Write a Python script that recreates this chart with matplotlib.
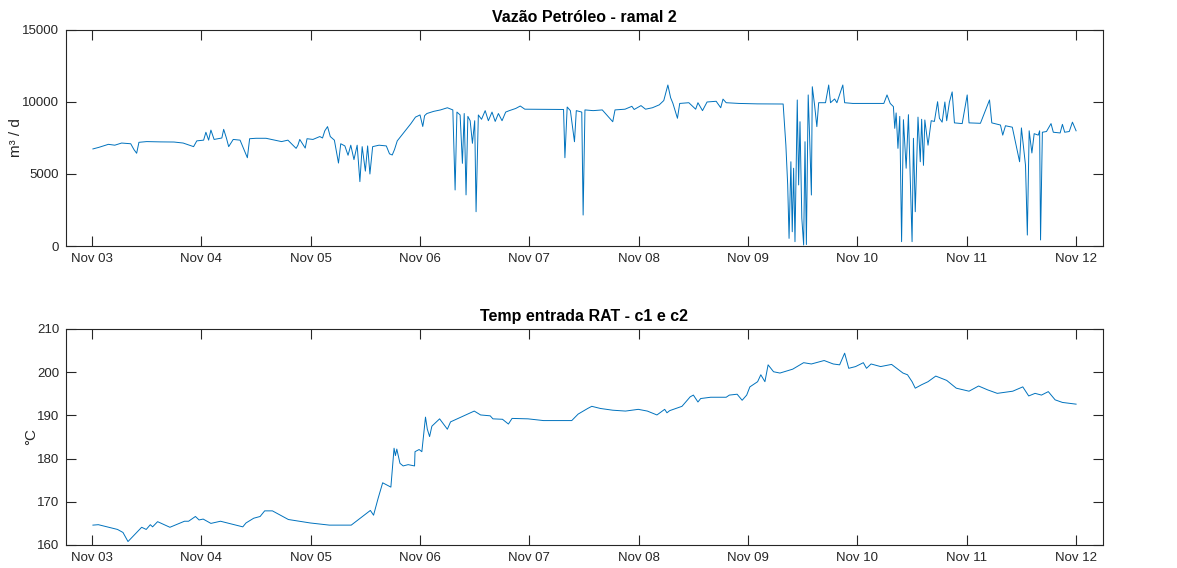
import numpy as np
import pandas as pd
import matplotlib
matplotlib.use("Agg")
import matplotlib.pyplot as plt
import matplotlib.dates as mdates

plt.rcParams['font.family'] = ['Liberation Sans', 'DejaVu Sans']

t0 = pd.Timestamp("2019-11-03 00:00")

# vazao de petroleo, ramal 2 (horas desde Nov 03 00:00, m3/d)
vazao_h = [0.2, 1.5, 3.6, 5.0, 6.5, 8.5, 9.2, 9.8, 10.3, 12, 15, 18, 20, 22.3, 23,
           24.5, 25, 25.6, 26.1, 26.8, 28.5, 28.9, 29.5, 30, 31, 32.5, 34.1, 34.6,
           36, 38.2, 41.6, 43, 44.8, 45.2, 45.6, 46.8, 47.2, 48.5, 50, 50.6, 51.1,
           51.7, 52.3, 53.2, 54.1, 54.6, 55.5, 56.2, 56.8, 57.5, 58.2, 58.8, 59.3,
           60, 60.5, 61, 61.6, 63, 64.6, 65.3, 65.9, 66.4, 67, 68.5, 70, 71, 72,
           72.6, 73, 73.5, 75, 76.5, 78, 79.2, 79.7, 80.1, 80.8, 81.3, 81.7, 82.1,
           82.5, 83.0, 83.5, 84.0, 84.3, 84.8, 85.5, 86.3, 87.0, 87.8, 88.5, 89.2,
           90.0, 90.8, 91.6, 93.0, 94.0, 95.0, 100, 103.5, 103.8, 104.3, 105.0,
           105.9, 106.3, 107.5, 107.8, 108.2, 110, 112, 114.3, 114.8, 117, 118.5,
           119, 120.5, 121.5, 123, 124.5, 125.5, 126.4, 127.0, 127.5, 128.5, 129,
           131, 132.5, 133, 134, 135, 137, 138, 138.5, 139.2, 142, 146, 151.7,
           152.3, 152.7, 153.0, 153.4, 153.7, 154.0, 154.3, 154.8, 155.1, 155.4,
           155.8, 156.2, 156.5, 156.8, 157.2, 157.5, 157.9, 158.1, 158.6, 159.1,
           159.5, 161.0, 161.7, 162.1, 163.0, 163.5, 164.8, 165.2, 167, 170, 173.8,
           174.5, 175.2, 175.9, 176.2, 176.5, 176.9, 177.3, 177.7, 178.1, 178.7,
           179.2, 179.7, 180.0, 180.3, 180.7, 181.3, 181.8, 182.1, 182.5, 182.8,
           183.5, 184.2, 184.9, 185.6, 186.0, 186.6, 187.2, 187.6, 188.2, 188.8,
           189.3, 191, 192.1, 192.5, 195, 197, 197.5, 199.4, 199.9, 200.5, 202,
           203.6, 204.0, 204.9, 205.3, 205.7, 206.3, 206.8, 207.7, 208.0, 208.2,
           208.6, 209.5, 210.5, 211, 212.5, 213, 213.5, 214.5, 215.2, 216]
vazao = [6740, 6850, 7060, 7000, 7150, 7100, 6700, 6440, 7200, 7250, 7230, 7220, 7150, 6900, 7300,
         7350, 7900, 7350, 8050, 7400, 7500, 8100, 7500, 6900, 7400, 7350, 6130, 7450,
         7480, 7480, 7250, 7350, 6780, 7000, 7400, 6800, 7450, 7400, 7600, 7500, 8000,
         8290, 7600, 7350, 5760, 7100, 6950, 6300, 7000, 6000, 7000, 4470, 6900,
         5200, 6950, 5000, 6900, 7000, 6950, 6400, 6320, 6700, 7300, 7900, 8500, 8950, 9100,
         8300, 9050, 9200, 9350, 9450, 9600, 9450, 3890, 9300, 9100, 5740, 9200, 3550,
         9000, 8700, 7130, 8700, 2380, 9100, 8800, 9400, 8700, 9300, 8650, 9200,
         8700, 9300, 9400, 9550, 9720, 9500, 9490, 9480, 6130, 9650, 9400,
         7240, 9400, 9300, 2150, 9450, 9400, 9450, 8630, 9450, 9500, 9700,
         9480, 9750, 9500, 9600, 9800, 10100, 11180, 10300, 9910, 8870, 9900,
         9950, 9500, 9950, 9400, 10000, 10050, 9600, 10200, 9950, 9900, 9870, 9860,
         7010, 4240, 530, 5850, 990, 5400, 300, 10140, 4240, 8630,
         1920, 70, 7240, 100, 10490, 7700, 3540, 11060, 9790, 8290,
         9950, 9950, 11180, 9950, 10210, 9950, 11180, 9950, 9900, 9900, 9900,
         10490, 9900, 9680, 8170, 9240, 6780, 9000, 300, 8770, 5400,
         9120, 3540, 300, 7480, 2380, 8950, 5850, 8800, 5600, 8750,
         7000, 8700, 8650, 10020, 8870, 8600, 10000, 8700, 10000, 10700,
         8550, 8500, 10490, 8550, 8520, 10140, 8550, 8400, 7700, 8350, 8250,
         5850, 8200, 5600, 760, 8000, 6460, 7800, 7700, 8000, 420,
         7900, 7950, 8500, 7900, 7850, 8450, 7900, 7950, 8600, 8000]

# temperatura de entrada RAT, c1 e c2 (horas desde Nov 03 00:00, graus C)
temp_h = [0.2, 1.4, 5.6, 6.8, 7.9, 10.9, 11.9, 12.8, 13.3, 14.4, 17.1, 20.3, 21.2, 22.7,
          23.5, 24.4, 26.1, 28.2, 33.1, 33.8, 35.5, 36.9, 37.9, 39.6, 43.1, 47.9, 52.1,
          56.9, 61.1, 61.8, 62.8, 63.8, 65.6, 66.3, 66.6, 66.9, 67.6, 68.3, 69.4, 70.8,
          70.9, 71.8, 72.4, 73.2, 73.6, 74.1, 74.6, 76.3, 78.0, 78.7, 83.9, 85.3, 87.4,
          88.0, 90.1, 91.4, 92.2, 95.7, 99.1, 105.3, 106.7, 108.8, 109.7, 111.6, 114.3,
          117.1, 119.9, 121.9, 124.0, 125.7, 126.2, 126.8, 129.5, 131.3, 132.0, 133.0,
          133.6, 135.8, 139.2, 139.9, 141.6, 142.7, 143.7, 144.4, 146.1, 146.8, 147.7,
          148.4, 149.6, 151.0, 153.8, 156.2, 157.9, 160.7, 162.7, 164.1, 165.2, 166.1,
          167.6, 169.3, 170.0, 171.0, 173.1, 175.5, 178.0, 179.0, 180.0, 180.7, 182.1,
          183.5, 185.2, 187.6, 189.7, 192.5, 194.6, 196.6, 198.7, 202.1, 204.3, 205.6,
          207.0, 208.4, 209.9, 211.4, 213.0, 216.0]
temp = [164.6, 164.7, 163.6, 162.9, 160.8, 164.1, 163.6, 164.7, 164.2, 165.4, 164.1, 165.5, 165.5, 166.6,
        165.8, 166.0, 165.0, 165.5, 164.2, 165.1, 166.2, 166.6, 167.9, 167.9, 165.9, 165.1, 164.6,
        164.6, 168.0, 166.9, 170.8, 174.4, 173.4, 182.4, 180.7, 182.2, 178.9, 178.3, 178.6, 178.3,
        181.6, 182.1, 181.6, 189.6, 186.8, 185.1, 187.5, 189.2, 186.8, 188.5, 191.0, 190.1, 189.9,
        189.2, 189.1, 188.0, 189.3, 189.2, 188.8, 188.8, 190.3, 191.6, 192.1, 191.6, 191.2,
        191.0, 191.4, 191.0, 190.1, 191.4, 190.6, 191.1, 192.1, 194.3, 194.7, 193.1,
        193.9, 194.2, 194.2, 194.7, 194.9, 193.5, 194.7, 196.6, 197.8, 199.4, 197.8,
        201.7, 200.1, 199.8, 200.7, 202.2, 201.9, 202.7, 201.9, 201.7, 204.4, 200.9,
        201.3, 202.2, 200.9, 201.9, 201.3, 201.8, 199.8, 199.4, 197.8, 196.3, 197.1,
        197.8, 199.1, 198.1, 196.3, 195.6, 196.8, 195.9, 195.1, 195.6, 196.6, 194.5,
        195.1, 194.7, 195.5, 193.6, 193.0, 192.6]

t_vazao = t0 + pd.to_timedelta(vazao_h, unit="h")
t_temp = t0 + pd.to_timedelta(temp_h, unit="h")

cor = "#0072BD"
eixo = "#262626"

fig = plt.figure(figsize=(11.77, 5.68), dpi=100)
ax1 = fig.add_axes([0.0561, 0.5669, 0.881, 0.3803])
ax2 = fig.add_axes([0.0561, 0.0405, 0.881, 0.3803])


def estilo(ax):
    ax.set_xlim(t0 - pd.Timedelta(hours=5.7), t0 + pd.Timedelta(hours=221.9))
    ax.xaxis.set_major_locator(mdates.DayLocator())
    ax.xaxis.set_major_formatter(mdates.DateFormatter("%b %d"))
    ax.tick_params(direction="in", length=7, width=0.8, colors=eixo,
                   labelsize=9.5, top=True, right=True, pad=5)
    for s in ax.spines.values():
        s.set_color(eixo)
        s.set_linewidth(0.8)


ax1.plot(t_vazao, vazao, color=cor, lw=0.7)
estilo(ax1)
ax1.set_ylim(0, 15000)
ax1.set_yticks([0, 5000, 10000, 15000])
ax1.set_ylabel("m³ / d", fontsize=11, color=eixo, labelpad=-1)
ax1.set_title("Vazão Petróleo - ramal 2", fontsize=11.5, fontweight="bold", pad=6)

ax2.plot(t_temp, temp, color=cor, lw=0.7)
estilo(ax2)
ax2.set_ylim(160, 210)
ax2.set_yticks([160, 170, 180, 190, 200, 210])
ax2.set_ylabel("°C", fontsize=11, color=eixo, labelpad=-1)
ax2.set_title("Temp entrada RAT - c1 e c2", fontsize=11.5, fontweight="bold", pad=6)

fig.savefig("out.png", dpi=100)
